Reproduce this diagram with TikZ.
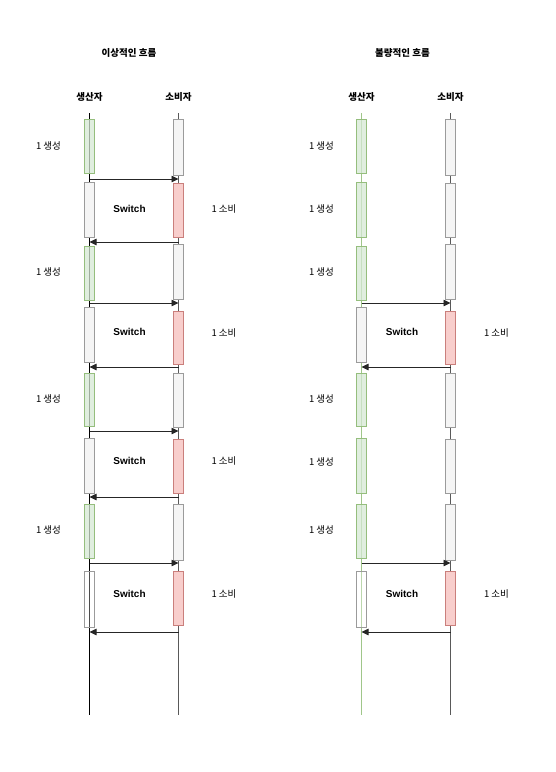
\documentclass[tikz,border=0pt]{standalone}
\usepackage{fontspec}
\setmainfont{Liberation Sans}
\newfontfamily\kr{Noto Sans CJK KR}
\definecolor{prodgreen}{RGB}{213, 232, 212}
\definecolor{prodline}{RGB}{130, 179, 102}
\definecolor{idlegray}{RGB}{245, 245, 245}
\definecolor{idleline}{RGB}{155, 155, 155}
\definecolor{consred}{RGB}{248, 206, 204}
\definecolor{consline}{RGB}{184, 84, 80}
\definecolor{lifegreen}{RGB}{160, 198, 138}
\usetikzlibrary{arrows.meta, positioning}

\begin{document}
\begin{tikzpicture}[x=1pt, y=-1pt,
  bar/.style={draw, line width=0.9pt, minimum width=9.5pt, inner sep=0pt},
  prod/.style={bar, draw=prodline!85, fill=prodgreen, fill opacity=0.75},
  idle/.style={bar, draw=idleline, fill=idlegray},
  cons/.style={bar, draw=consline!75, fill=consred},
  ghost/.style={bar, draw=idleline, fill=white, fill opacity=0.3},
  msg/.style={-{Triangle[length=7pt, width=6.5pt]}, line width=0.8pt, draw=black!85, fill=black!85},
  head/.style={font=\kr\bfseries\fontsize{9.5}{11}\selectfont},
  lbl/.style={font=\kr\fontsize{9.5}{11}\selectfont},
  sw/.style={font=\bfseries\fontsize{10}{12}\selectfont}]
  \useasboundingbox (0, 0) rectangle (556, 772);

  % Lifelines
  \coordinate (lp0) at (89.5, 113);  \coordinate (lp9) at (89.5, 715);
  \coordinate (lc0) at (178.5, 113); \coordinate (lc9) at (178.5, 715);
  \coordinate (rp0) at (361.5, 113); \coordinate (rp9) at (361.5, 715);
  \coordinate (rc0) at (450.5, 113); \coordinate (rc9) at (450.5, 715);
  \draw[line width=0.8pt, black] (lp0) -- (lp9);
  \draw[line width=0.8pt, black!65] (lc0) -- (lc9);
  \draw[line width=0.8pt, lifegreen] (rp0) -- (rp9);
  \draw[line width=0.8pt, black!65] (rc0) -- (rc9);

  % Ideal flow
  \node[head] (t1) at (129, 53) {이상적인 흐름};
  \node[head] (lph) at (89.5, 96.5) {생산자};
  \node[head] (lch) at (178.5, 96.5) {소비자};

  % Producer
  \node[prod, minimum height=54pt] (p1) at (89.5, 146) {};
  \node[idle, minimum height=55pt] (p2) at (89.5, 209.5) {};
  \node[prod, minimum height=54pt] (p3) at (89.5, 273) {};
  \node[idle, minimum height=55pt] (p4) at (89.5, 334.5) {};
  \node[prod, minimum height=53pt] (p5) at (89.5, 399.5) {};
  \node[idle, minimum height=55pt] (p6) at (89.5, 465.5) {};
  \node[prod, minimum height=54pt] (p7) at (89.5, 531) {};
  \node[ghost, minimum height=56pt] (p8) at (89.5, 599) {};

  % Consumer
  \node[idle, minimum height=56pt] (c1) at (178.5, 147) {};
  \node[cons, minimum height=54pt] (c2) at (178.5, 210) {};
  \node[idle, minimum height=55pt] (c3) at (178.5, 271.5) {};
  \node[cons, minimum height=53pt] (c4) at (178.5, 337.5) {};
  \node[idle, minimum height=54pt] (c5) at (178.5, 400) {};
  \node[cons, minimum height=54pt] (c6) at (178.5, 466) {};
  \node[idle, minimum height=56pt] (c7) at (178.5, 532) {};
  \node[cons, minimum height=54pt] (c8) at (178.5, 598) {};

  % Messages
  \coordinate (f1) at (178.5, 179); \coordinate (b1) at (178.5, 242);
  \coordinate (f2) at (178.5, 303); \coordinate (b2) at (178.5, 367);
  \coordinate (f3) at (178.5, 431); \coordinate (b3) at (178.5, 497);
  \coordinate (f4) at (178.5, 563); \coordinate (b4) at (178.5, 632);
  \draw[msg] (f1 -| p1) -- (f1);
  \draw[msg] (b1) -- (b1 -| p2);
  \draw[msg] (f2 -| p3) -- (f2);
  \draw[msg] (b2) -- (b2 -| p4);
  \draw[msg] (f3 -| p5) -- (f3);
  \draw[msg] (b3) -- (b3 -| p6);
  \draw[msg] (f4 -| p7) -- (f4);
  \draw[msg] (b4) -- (b4 -| p8);

  % Labels
  \node[lbl] (g1) at (48.5, 146) {1 생성};
  \node[lbl] (g2) at (48.5, 272) {1 생성};
  \node[lbl] (g3) at (48.5, 399) {1 생성};
  \node[lbl] (g4) at (48.5, 530) {1 생성};
  \node[sw] (w1) at (129.5, 209) {Switch};
  \node[sw] (w2) at (129.5, 332) {Switch};
  \node[sw] (w3) at (129.5, 461) {Switch};
  \node[sw] (w4) at (129.5, 594) {Switch};
  \node[lbl] (e1) at (224, 209) {1 소비};
  \node[lbl] (e2) at (224, 333) {1 소비};
  \node[lbl] (e3) at (224, 461) {1 소비};
  \node[lbl] (e4) at (224, 594) {1 소비};

  % Bad flow
  \node[head] (t2) at (402.5, 53) {불량적인 흐름};
  \node[head] (rph) at (361.5, 96.5) {생산자};
  \node[head] (rch) at (450.5, 96.5) {소비자};

  % Producer
  \node[prod, minimum height=54pt] (q1) at (361.5, 146) {};
  \node[prod, minimum height=55pt] (q2) at (361.5, 209.5) {};
  \node[prod, minimum height=54pt] (q3) at (361.5, 273) {};
  \node[idle, minimum height=55pt] (q4) at (361.5, 334.5) {};
  \node[prod, minimum height=53pt] (q5) at (361.5, 399.5) {};
  \node[prod, minimum height=55pt] (q6) at (361.5, 465.5) {};
  \node[prod, minimum height=54pt] (q7) at (361.5, 531) {};
  \node[ghost, minimum height=56pt] (q8) at (361.5, 599) {};

  % Consumer
  \node[idle, minimum height=56pt] (d1) at (450.5, 147) {};
  \node[idle, minimum height=54pt] (d2) at (450.5, 210) {};
  \node[idle, minimum height=55pt] (d3) at (450.5, 271.5) {};
  \node[cons, minimum height=53pt] (d4) at (450.5, 337.5) {};
  \node[idle, minimum height=54pt] (d5) at (450.5, 400) {};
  \node[idle, minimum height=54pt] (d6) at (450.5, 466) {};
  \node[idle, minimum height=56pt] (d7) at (450.5, 532) {};
  \node[cons, minimum height=54pt] (d8) at (450.5, 598) {};

  % Messages
  \coordinate (rf1) at (450.5, 303); \coordinate (rb1) at (450.5, 367);
  \coordinate (rf2) at (450.5, 563); \coordinate (rb2) at (450.5, 632);
  \draw[msg] (rf1 -| q3) -- (rf1);
  \draw[msg] (rb1) -- (rb1 -| q4);
  \draw[msg] (rf2 -| q7) -- (rf2);
  \draw[msg] (rb2) -- (rb2 -| q8);

  % Labels
  \node[lbl] (h1) at (321.5, 146) {1 생성};
  \node[lbl] (h2) at (321.5, 209) {1 생성};
  \node[lbl] (h3) at (321.5, 272) {1 생성};
  \node[lbl] (h4) at (321.5, 399) {1 생성};
  \node[lbl] (h5) at (321.5, 462) {1 생성};
  \node[lbl] (h6) at (321.5, 530) {1 생성};
  \node[sw] (v1) at (402, 332) {Switch};
  \node[sw] (v2) at (402, 594) {Switch};
  \node[lbl] (k1) at (496.5, 333) {1 소비};
  \node[lbl] (k2) at (496.5, 594) {1 소비};
\end{tikzpicture}
\end{document}
